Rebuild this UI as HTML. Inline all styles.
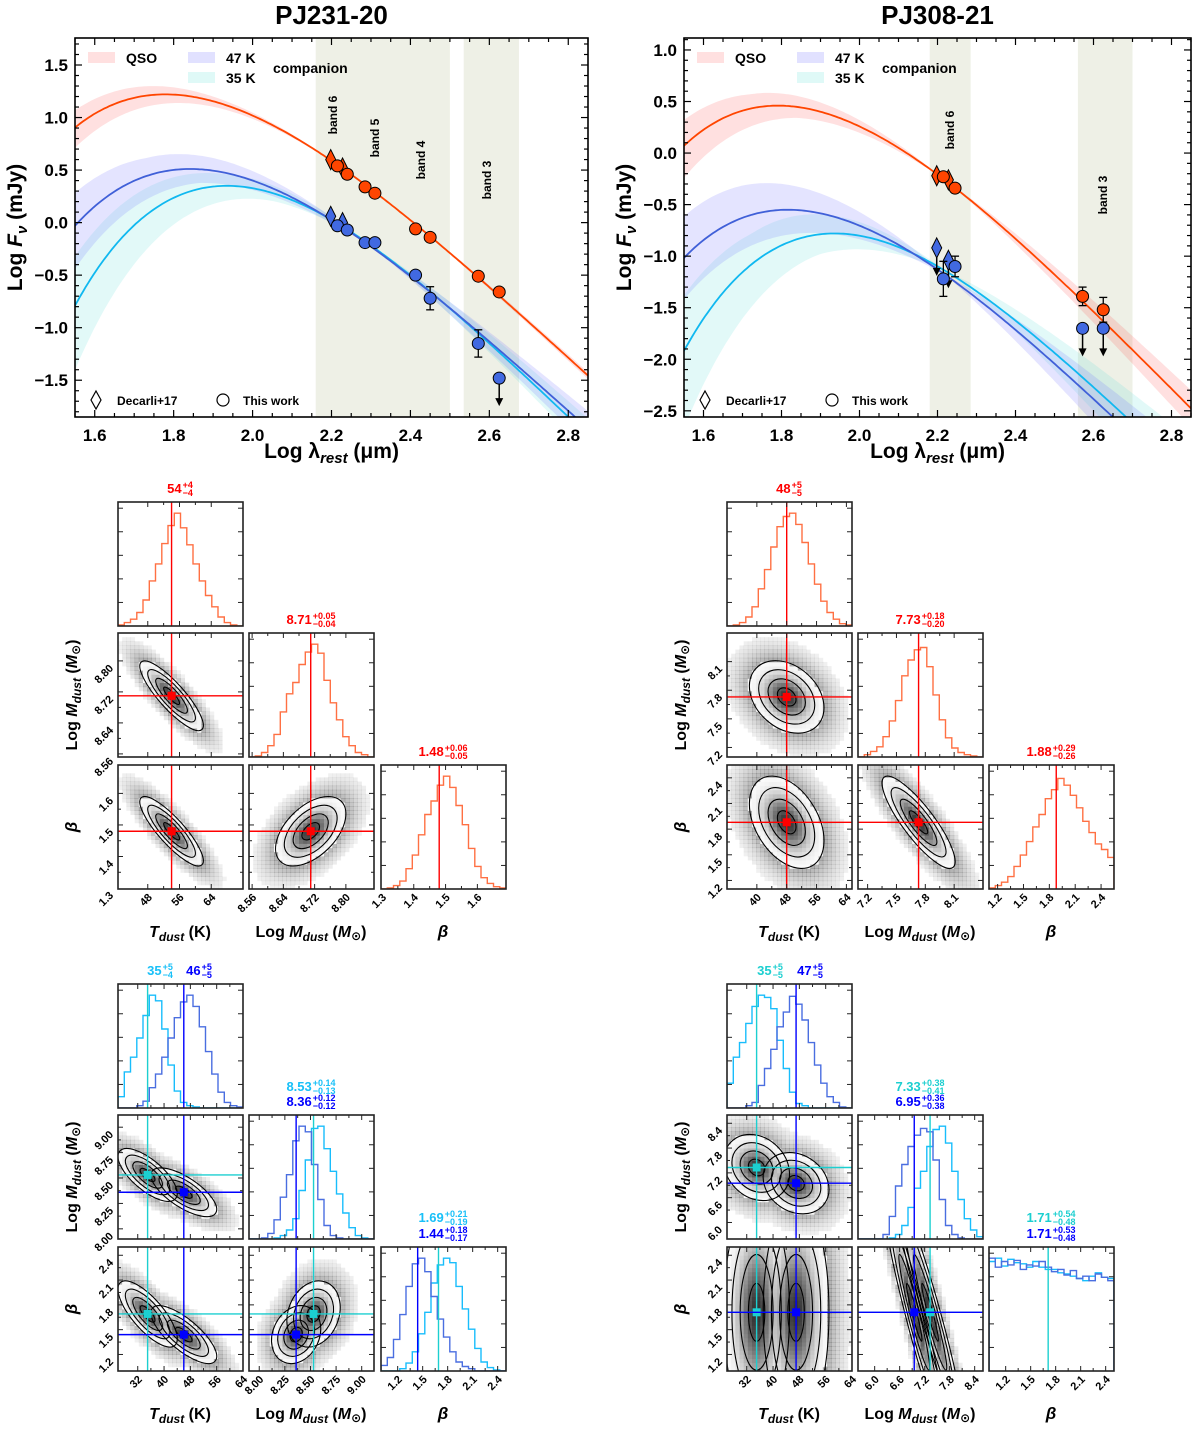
<!DOCTYPE html>
<html><head><meta charset="utf-8">
<style>
body{margin:0;background:#fff}
svg{display:block;font-family:"Liberation Sans","DejaVu Sans",sans-serif;font-weight:bold}
</style></head>
<body>
<svg id="fig" width="1200" height="1430" viewBox="0 0 1200 1430"></svg>
<script>
// ================= SED DATA =================
const sedXTicks=[1.6,1.8,2.0,2.2,2.4,2.6,2.8];
const sedXTickLabels=['1.6','1.8','2.0','2.2','2.4','2.6','2.8'];
const L_yTicks=[-1.5,-1.0,-0.5,0.0,0.5,1.0,1.5];
const L_yTickLabels=['\u22121.5','\u22121.0','\u22120.5','0.0','0.5','1.0','1.5'];
const R_yTicks=[-2.5,-2.0,-1.5,-1.0,-0.5,0.0,0.5,1.0];
const R_yTickLabels=['\u22122.5','\u22122.0','\u22121.5','\u22121.0','\u22120.5','0.0','0.5','1.0'];
const L_bandLo=[2.16,2.535]; const L_bandHi=[2.50,2.675];
const R_bandLo=[2.18,2.56];  const R_bandHi=[2.285,2.70];
// curves: QSO, 47K companion, 35K companion
const L_curveT=[54,47,35]; const L_curveBeta=[1.48,1.44,1.69];
const L_anchorX=[1.77,1.85,1.94]; const L_anchorY=[1.22,0.51,0.35];
const L_dT=[4,6,5]; const L_dBeta=[0.06,0.3,0.3];
const R_curveT=[48,47,35]; const R_curveBeta=[1.88,1.71,1.71];
const R_anchorX=[1.79,1.82,1.93]; const R_anchorY=[0.46,-0.55,-0.78];
const R_dT=[5,6,6]; const R_dBeta=[0.28,0.6,0.6];
// points
const L_qsoCircX=[2.215,2.24,2.285,2.31,2.413,2.45,2.572,2.625];
const L_qsoCircY=[0.54,0.46,0.34,0.28,-0.06,-0.14,-0.51,-0.66];
const L_qsoCircErr=[0,0,0,0,0,0,0,0]; const L_qsoCircUL=[0,0,0,0,0,0,0,0];
const L_qsoDiaX=[2.198,2.228]; const L_qsoDiaY=[0.60,0.52]; const L_qsoDiaUL=[0,0];
const L_compCircX=[2.215,2.24,2.285,2.31,2.413,2.45,2.572,2.625];
const L_compCircY=[-0.03,-0.07,-0.19,-0.19,-0.50,-0.72,-1.15,-1.48];
const L_compCircErr=[0,0,0,0,0.02,0.11,0.13,0]; const L_compCircUL=[0,0,0,0,0,0,0,1];
const L_compDiaX=[2.198,2.228]; const L_compDiaY=[0.06,0.0]; const L_compDiaUL=[0,0];
const R_qsoCircX=[2.215,2.245,2.572,2.625]; const R_qsoCircY=[-0.23,-0.34,-1.39,-1.52];
const R_qsoCircErr=[0.02,0,0.09,0.12]; const R_qsoCircUL=[0,0,0,0];
const R_qsoDiaX=[2.198,2.228]; const R_qsoDiaY=[-0.22,-0.26]; const R_qsoDiaUL=[0,0];
const R_compCircX=[2.215,2.245,2.572,2.625]; const R_compCircY=[-1.22,-1.10,-1.70,-1.70];
const R_compCircErr=[0.17,0.1,0,0]; const R_compCircUL=[0,0,1,1];
const R_compDiaX=[2.198,2.228]; const R_compDiaY=[-0.92,-1.04]; const R_compDiaUL=[1,1];

// ================= CORNER DATA =================
const TL_mean=[54,8.71,1.48]; const TL_sig=[4,0.045,0.055]; const TL_corr=[-0.85,-0.85,0.5];
const TL_histT=[0.01,0.03,0.06,0.12,0.23,0.4,0.55,0.73,0.89,1.0,0.87,0.72,0.55,0.4,0.27,0.17,0.08,0.03,0.01,0.0];
const TL_histM=[0,0.01,0.04,0.1,0.2,0.4,0.56,0.66,0.82,0.93,1.0,0.92,0.68,0.48,0.33,0.18,0.1,0.04,0.02,0.0];
const TL_histB=[0,0.01,0.03,0.07,0.18,0.3,0.48,0.66,0.78,0.92,1.0,0.9,0.74,0.57,0.36,0.2,0.1,0.05,0.02,0.01];
const TR_mean=[48,7.73,1.88]; const TR_sig=[5,0.19,0.27]; const TR_corr=[-0.3,-0.4,-0.85];
const TR_histT=[0,0.01,0.03,0.08,0.17,0.33,0.5,0.7,0.88,0.97,1.0,0.9,0.74,0.55,0.37,0.22,0.12,0.06,0.02,0.01];
const TR_histM=[0,0.02,0.05,0.09,0.18,0.32,0.5,0.72,0.86,0.95,0.97,0.8,0.55,0.33,0.17,0.08,0.04,0.02,0.01,0];
const TR_histB=[0.01,0.03,0.06,0.11,0.2,0.3,0.42,0.55,0.66,0.8,0.88,0.98,0.92,0.83,0.72,0.6,0.5,0.4,0.35,0.28];
const BLc_mean=[35,8.53,1.69]; const BLc_sig=[4.5,0.13,0.2]; const BLc_corr=[-0.7,-0.75,0.2];
const BLb_mean=[46,8.36,1.44]; const BLb_sig=[5,0.12,0.175]; const BLb_corr=[-0.7,-0.75,0.2];
const BLc_histT=[0.1,0.32,0.45,0.62,0.82,1.0,0.95,0.7,0.38,0.15,0.05,0.02,0.01,0,0,0,0,0,0,0];
const BLb_histT=[0,0,0,0.02,0.06,0.18,0.3,0.45,0.62,0.8,0.94,1.0,0.9,0.72,0.5,0.3,0.14,0.05,0.02,0.01];
const BLc_histM=[0,0,0,0,0.01,0.03,0.08,0.18,0.43,0.7,0.98,1.0,0.8,0.6,0.4,0.23,0.1,0.03,0.01,0];
const BLb_histM=[0,0,0.01,0.05,0.17,0.37,0.57,0.87,1.0,0.95,0.66,0.35,0.12,0.03,0.01,0,0,0,0,0];
const BLc_histB=[0,0,0,0.02,0.07,0.17,0.33,0.52,0.78,0.94,1.0,0.96,0.75,0.55,0.37,0.2,0.08,0.03,0.01,0];
const BLb_histB=[0.05,0.12,0.28,0.5,0.75,0.95,1.0,0.88,0.66,0.46,0.3,0.17,0.08,0.04,0.02,0,0,0,0,0];
const BRc_mean=[35,7.33,1.71]; const BRc_sig=[5,0.4,0.7]; const BRc_corr=[-0.2,0,-0.95];
const BRb_mean=[47,6.95,1.71]; const BRb_sig=[5,0.37,0.7]; const BRb_corr=[-0.2,0,-0.95];
const BRc_histT=[0.22,0.45,0.58,0.75,0.9,1.0,0.98,0.88,0.6,0.35,0.14,0.04,0.02,0,0,0,0,0,0,0];
const BRb_histT=[0,0,0,0.02,0.05,0.2,0.35,0.52,0.72,0.85,0.99,0.92,0.78,0.58,0.38,0.22,0.1,0.05,0.01,0];
const BRc_histM=[0,0,0,0,0,0.01,0.04,0.12,0.28,0.45,0.6,0.82,0.97,1.0,0.85,0.6,0.35,0.18,0.08,0.02];
const BRb_histM=[0,0,0,0,0.04,0.2,0.47,0.66,0.82,0.92,0.98,0.95,0.7,0.35,0.12,0.04,0.01,0,0,0];
const BRc_histB=[0.97,1.0,0.93,0.99,0.96,0.95,0.92,0.97,0.92,0.9,0.9,0.87,0.86,0.84,0.82,0.8,0.84,0.87,0.83,0.82];
const BRb_histB=[1.0,0.92,0.97,0.94,0.98,0.9,0.94,0.93,0.97,0.92,0.88,0.9,0.85,0.89,0.82,0.84,0.8,0.86,0.83,0.8];

// ================= HELPERS =================
const NS='http://www.w3.org/2000/svg';
const svg=document.getElementById('fig');
let clipId=0;
function el(tag,attrs,parent){const e=document.createElementNS(NS,tag);for(const k in attrs)e.setAttribute(k,attrs[k]);(parent||svg).appendChild(e);return e;}
function clipRect(x,y,w,h){const id='c'+(clipId++);const cp=el('clipPath',{id:id});el('rect',{x:x,y:y,width:w,height:h},cp);return 'url(#'+id+')';}

const C2=14388;
function mbb(l,T,b,Tc){const lam=Math.pow(10,l);const x=C2/(lam*T),xc=C2/(lam*Tc);
  return -(3+b)*l+Math.log10(1/Math.expm1(x)-1/Math.expm1(xc));}

function sedPanel(P){
  const g=el('g',{});
  
  
  const X=v=>P.x0+(v-P.xr[0])/(P.xr[1]-P.xr[0])*(P.x1-P.x0);
  const Y=v=>P.y1-(v-P.yr[0])/(P.yr[1]-P.yr[0])*(P.y1-P.y0);
  const cp=clipRect(P.x0,P.y0,P.x1-P.x0,P.y1-P.y0);
  const inner=el('g',{'clip-path':cp},g);
  for(let i=0;i<P.bandLo.length;i++){
    const r=el('rect',{x:X(P.bandLo[i]),y:P.y0,width:X(P.bandHi[i])-X(P.bandLo[i]),height:P.y1-P.y0,fill:'#eef0e6'},inner);
    
    
  }
  const N=200;
  const order=[2,1,0];
  const fills=['#ff3030','#6a6aff','#60e0d8'];
  const strokes=['#ff4500','#4060d8','#10b8f0'];
  const opac=[0.15,0.18,0.18];
  const curve=(k,l,T,b)=>mbb(l,T,b,P.Tc)-mbb(P.aX[k],P.T[k],P.B[k],P.Tc)+P.aY[k];
  for(const k of order){
    const cen=l=>curve(k,l,P.T[k],P.B[k]);
    const combos=[[P.dT[k],-P.dB[k]],[-P.dT[k],P.dB[k]],[P.dT[k],0],[-P.dT[k],0],[0,P.dB[k]],[0,-P.dB[k]]];
    const up=[],lo=[];
    for(let i=0;i<=N;i++){
      const l=P.xr[0]-0.02+(P.xr[1]-P.xr[0]+0.04)*i/N;
      let mn=1e9,mx=-1e9;
      for(const cb of combos){const T=P.T[k]+cb[0],b=P.B[k]+cb[1];
        const v=mbb(l,T,b,P.Tc)-mbb(P.pivot,T,b,P.Tc)+cen(P.pivot);
        mn=Math.min(mn,v);mx=Math.max(mx,v);}
      const c=cen(l);mn=Math.min(mn,c);mx=Math.max(mx,c);
      up.push([X(l),Y(mx)]);lo.push([X(l),Y(mn)]);
    }
    const d='M'+up.map(p=>p[0].toFixed(1)+','+p[1].toFixed(1)).join('L')+'L'+lo.reverse().map(p=>p[0].toFixed(1)+','+p[1].toFixed(1)).join('L')+'Z';
    const sh=el('path',{d:d,fill:fills[k],'fill-opacity':opac[k],stroke:'none'},inner);
    
    
  }
  for(const k of order){
    let d='';
    for(let i=0;i<=N;i++){const l=P.xr[0]-0.02+(P.xr[1]-P.xr[0]+0.04)*i/N;d+=(i?'L':'M')+X(l).toFixed(1)+','+Y(curve(k,l,P.T[k],P.B[k])).toFixed(1);}
    const ln=el('path',{d:d,fill:'none',stroke:strokes[k],'stroke-width':1.8},inner);
    
    
  }
  function pts(xs,ys,errs,uls,shape,fill,name){
    for(let i=0;i<xs.length;i++){
      const px=X(xs[i]),py=Y(ys[i]);
      if(errs&&errs[i]>0){
        el('line',{x1:px,x2:px,y1:Y(ys[i]+errs[i]),y2:Y(ys[i]-errs[i]),stroke:'#000','stroke-width':1.3},inner);
        el('line',{x1:px-4,x2:px+4,y1:Y(ys[i]+errs[i]),y2:Y(ys[i]+errs[i]),stroke:'#000','stroke-width':1.3},inner);
        el('line',{x1:px-4,x2:px+4,y1:Y(ys[i]-errs[i]),y2:Y(ys[i]-errs[i]),stroke:'#000','stroke-width':1.3},inner);
      }
      if(uls[i]){
        el('line',{x1:px,x2:px,y1:py,y2:py+26,stroke:'#000','stroke-width':1.5},inner);
        el('path',{d:`M${px-4},${py+20}L${px+4},${py+20}L${px},${py+28}Z`,fill:'#000'},inner);
      }
      let m;
      if(shape==='c') m=el('circle',{cx:px,cy:py,r:6,fill:fill,stroke:'#000','stroke-width':1},inner);
      else m=el('path',{d:`M${px},${py-10}L${px+5},${py}L${px},${py+10}L${px-5},${py}Z`,fill:fill,stroke:'#000','stroke-width':1},inner);
      
      
    }
  }
  pts(P.qDX,P.qDY,null,P.qDU,'d','#ff4500','qso-decarli-point');
  pts(P.qCX,P.qCY,P.qCE,P.qCU,'c','#ff4500','qso-thiswork-point');
  pts(P.cDX,P.cDY,null,P.cDU,'d','#4169e1','companion-decarli-point');
  pts(P.cCX,P.cCY,P.cCE,P.cCU,'c','#4169e1','companion-thiswork-point');
  el('rect',{x:P.x0,y:P.y0,width:P.x1-P.x0,height:P.y1-P.y0,fill:'none',stroke:'#000','stroke-width':1.6},g);
  const tk=(x1,y1,x2,y2)=>el('line',{x1,y1,x2,y2,stroke:'#000','stroke-width':1.2},g);
  for(let v=1.55;v<=2.851;v+=0.05){const px=X(v);const major=Math.abs(v*5-Math.round(v*5))<0.01;const L=major?7:4;tk(px,P.y1,px,P.y1-L);tk(px,P.y0,px,P.y0+L);}
  for(let i=0;i<P.xt.length;i++){const t=el('text',{x:X(P.xt[i]),y:P.y1+24,'text-anchor':'middle','font-size':17},g);t.textContent=P.xtl[i];}
  for(let v=Math.ceil(P.yr[0]*10)/10;v<=P.yr[1];v+=0.1){const py=Y(v);const major=Math.abs(v*2-Math.round(v*2))<0.01;const L=major?7:4;tk(P.x0,py,P.x0+L,py);tk(P.x1,py,P.x1-L,py);}
  for(let i=0;i<P.yt.length;i++){const t=el('text',{x:P.x0-7,y:Y(P.yt[i])+6,'text-anchor':'end','font-size':17},g);t.textContent=P.ytl[i];}
  const tt=el('text',{x:(P.x0+P.x1)/2,y:24,'text-anchor':'middle','font-size':26},g);tt.textContent=P.title;
  
  const xl=el('text',{x:(P.x0+P.x1)/2,y:458,'text-anchor':'middle','font-size':21},g);
  xl.innerHTML='Log \u03bb<tspan font-size="15" dy="5" font-style="italic">rest</tspan><tspan dy="-5"> (\u03bcm)</tspan>';
  
  const yl=el('text',{x:0,y:0,'text-anchor':'middle','font-size':21,transform:`translate(${P.x0-53},${(P.y0+P.y1)/2}) rotate(-90)`},g);
  yl.innerHTML='Log <tspan font-style="italic">F</tspan><tspan font-size="15" dy="5" font-style="italic">\u03bd</tspan><tspan dy="-5"> (mJy)</tspan>';
  
  for(let i=0;i<P.bl.length;i++){const b=P.bl[i];const t=el('text',{x:0,y:0,'text-anchor':'middle','font-size':12,transform:`translate(${b[1]+4},${b[2]}) rotate(-90)`},g);t.textContent=b[0];}
  const lx=P.x0;const lg=el('g',{},g);
  el('rect',{x:lx+13,y:52,width:27,height:11,fill:'#ff3030','fill-opacity':0.15},lg);
  el('rect',{x:lx+113,y:52,width:27,height:11,fill:'#6a6aff','fill-opacity':0.2},lg);
  el('rect',{x:lx+113,y:72,width:27,height:11,fill:'#60e0d8','fill-opacity':0.2},lg);
  const lt=(x,y,s,fs)=>{const t=el('text',{x,y,'font-size':fs},lg);t.textContent=s;return t;};
  lt(lx+51,63,'QSO',14);lt(lx+151,63,'47 K',14);lt(lx+151,83,'35 K',14);lt(lx+198,73,'companion',14);
  el('path',{d:`M${lx+21},${391}L${lx+26},${400}L${lx+21},${409}L${lx+16},${400}Z`,fill:'#fff',stroke:'#000','stroke-width':1.2},lg);
  lt(lx+42,405,'Decarli+17',12);
  el('circle',{cx:lx+148,cy:400,r:6,fill:'#fff',stroke:'#000','stroke-width':1.2},lg);
  lt(lx+168,405,'This work',12);
}

sedPanel({name:'sed-panel-pj231',title:'PJ231-20',x0:75,x1:588,y0:38,y1:417,xr:[1.55,2.85],yr:[-1.85,1.757],
  xt:sedXTicks,xtl:sedXTickLabels,yt:L_yTicks,ytl:L_yTickLabels,bandLo:L_bandLo,bandHi:L_bandHi,
  T:L_curveT,B:L_curveBeta,aX:L_anchorX,aY:L_anchorY,dT:L_dT,dB:L_dBeta,Tc:20.7,pivot:2.3,
  qCX:L_qsoCircX,qCY:L_qsoCircY,qCE:L_qsoCircErr,qCU:L_qsoCircUL,qDX:L_qsoDiaX,qDY:L_qsoDiaY,qDU:L_qsoDiaUL,
  cCX:L_compCircX,cCY:L_compCircY,cCE:L_compCircErr,cCU:L_compCircUL,cDX:L_compDiaX,cDY:L_compDiaY,cDU:L_compDiaUL,
  bl:[['band 6',333,115],['band 5',375,138],['band 4',421,160],['band 3',487,180]]});
sedPanel({name:'sed-panel-pj308',title:'PJ308-21',x0:684,x1:1191,y0:38,y1:417,xr:[1.55,2.85],yr:[-2.56,1.116],
  xt:sedXTicks,xtl:sedXTickLabels,yt:R_yTicks,ytl:R_yTickLabels,bandLo:R_bandLo,bandHi:R_bandHi,
  T:R_curveT,B:R_curveBeta,aX:R_anchorX,aY:R_anchorY,dT:R_dT,dB:R_dBeta,Tc:19.7,pivot:2.22,
  qCX:R_qsoCircX,qCY:R_qsoCircY,qCE:R_qsoCircErr,qCU:R_qsoCircUL,qDX:R_qsoDiaX,qDY:R_qsoDiaY,qDU:R_qsoDiaUL,
  cCX:R_compCircX,cCY:R_compCircY,cCE:R_compCircErr,cCU:R_compCircUL,cDX:R_compDiaX,cDY:R_compDiaY,cDU:R_compDiaUL,
  bl:[['band 6',950,130],['band 3',1103,195]]});

// ================= CORNER =================
function title(g,cx,y,main,up,lo,color){
  const t=el('text',{x:0,y:y,'font-size':13,fill:color},g);t.textContent=main;
  const w=t.getComputedTextLength();
  const u=el('text',{x:0,y:y-5,'font-size':9,fill:color},g);u.textContent=up;
  const l=el('text',{x:0,y:y+3,'font-size':9,fill:color},g);l.textContent=lo;
  const w2=Math.max(u.getComputedTextLength(),l.getComputedTextLength());
  const x0=cx-(w+1+w2)/2;
  t.setAttribute('x',x0);u.setAttribute('x',x0+w+1);l.setAttribute('x',x0+w+1);
  
}
function drawCorner(C){
  const g=el('g',{});
  
  
  const W=125,H=124;
  const sx=(d,v,c)=>C.cx[c]+(v-C.ranges[d][0])/(C.ranges[d][1]-C.ranges[d][0])*W;
  const sy=(d,v,r)=>C.ry[r]+H-(v-C.ranges[d][0])/(C.ranges[d][1]-C.ranges[d][0])*H;
  const ci=(a,b)=>(a===0&&b===1)||(a===1&&b===0)?0:((a===0&&b===2)||(a===2&&b===0)?1:2);
  for(let r=0;r<3;r++)for(let c=0;c<=r;c++){
    const x0=C.cx[c],y0=C.ry[r];
    const pg=el('g',{},g);
    
    
    const inner=el('g',{'clip-path':clipRect(x0,y0,W,H)},pg);
    if(r===c){
      for(const comp of C.comps){
        const h=comp.hists[c];const n=h.length;
        let d=`M${x0},${y0+H}`;
        for(let i=0;i<n;i++){const xa=x0+W*i/n,xb=x0+W*(i+1)/n,yy=y0+H-h[i]*H*0.91;d+=`L${xa.toFixed(1)},${yy.toFixed(1)}L${xb.toFixed(1)},${yy.toFixed(1)}`;}
        d+=`L${x0+W},${y0+H}`;
        const p=el('path',{d:d,fill:'none',stroke:comp.hcol,'stroke-width':1.4},inner);
        
        
      }
      for(const comp of C.comps){if(comp.hideDiagLine&&c===2)continue;const px=sx(c,comp.mean[c],c);el('line',{x1:px,x2:px,y1:y0,y2:y0+H,stroke:comp.lcol,'stroke-width':1.4},inner);}
    } else {
      const N=30;
      for(let i=0;i<N;i++)for(let j=0;j<N;j++){
        const vx=C.ranges[c][0]+(C.ranges[c][1]-C.ranges[c][0])*(i+0.5)/N;
        const vy=C.ranges[r][0]+(C.ranges[r][1]-C.ranges[r][0])*(j+0.5)/N;
        let d=0;
        for(const comp of C.comps){
          const u=(vx-comp.mean[c])/comp.sig[c],v=(vy-comp.mean[r])/comp.sig[r],rho=comp.corr[ci(c,r)];
          const q=(u*u-2*rho*u*v+v*v)/(1-rho*rho);d=Math.max(d,Math.exp(-0.5*q));
        }
        const cw=W/N,ch=H/N;const rx=x0+i*cw,ry=y0+H-(j+1)*ch;
        if(d>0.135){const gr=Math.round(250-200*Math.pow((d-0.135)/0.865,1.5));el('rect',{x:rx,y:ry,width:cw+0.4,height:ch+0.4,fill:`rgb(${gr},${gr},${gr})`},inner);}
        else if(d>0.004){el('rect',{x:rx,y:ry,width:cw+0.4,height:ch+0.4,fill:'#000','fill-opacity':(0.32*Math.sqrt(d/0.135)).toFixed(3)},inner);}
      }
      for(const comp of C.comps){
        const sX=comp.sig[c]*W/(C.ranges[c][1]-C.ranges[c][0]);
        const sY=comp.sig[r]*H/(C.ranges[r][1]-C.ranges[r][0]);
        const rho=comp.corr[ci(c,r)];
        const a=sX*sX,b=sY*sY,cc=-rho*sX*sY;
        const m=(a+b)/2,dd=Math.sqrt(((a-b)/2)**2+cc*cc);
        const l1=m+dd,l2=Math.max(m-dd,0.01);
        const th=0.5*Math.atan2(2*cc,a-b)*180/Math.PI;
        const px=sx(c,comp.mean[c],c),py=sy(r,comp.mean[r],r);
        for(const s of [0.5,1,1.5,2]){
          const e=el('ellipse',{cx:px,cy:py,rx:s*Math.sqrt(l1),ry:s*Math.sqrt(l2),fill:'none',stroke:'#000','stroke-width':1.1,transform:`rotate(${th} ${px} ${py})`},inner);
          
          
        }
      }
      for(const comp of C.comps){
        const px=sx(c,comp.mean[c],c),py=sy(r,comp.mean[r],r);
        el('line',{x1:px,x2:px,y1:y0,y2:y0+H,stroke:comp.lcol,'stroke-width':1.4},inner);
        el('line',{x1:x0,x2:x0+W,y1:py,y2:py,stroke:comp.lcol,'stroke-width':1.4},inner);
        const mk=el('rect',{x:px-4,y:py-4,width:8,height:8,fill:comp.lcol},inner);
        
        
      }
    }
    el('rect',{x:x0,y:y0,width:W,height:H,fill:'none',stroke:'#222','stroke-width':1.6},pg);
    const tk=(a,b,c2,d2)=>el('line',{x1:a,y1:b,x2:c2,y2:d2,stroke:'#222','stroke-width':1},pg);
    const xt=C.ticks[c];
    for(const v of xt){const px=sx(c,v,c);if(px<x0+1||px>x0+W-1)continue;tk(px,y0+H,px,y0+H-5);tk(px,y0,px,y0+5);}
    for(let k=0;k<xt.length-1;k++){const mv=(xt[k]+xt[k+1])/2;const px=sx(c,mv,c);tk(px,y0+H,px,y0+H-3);tk(px,y0,px,y0+3);}
    if(r===c){for(let k=1;k<=5;k++){const py=y0+H-k*H*0.19;tk(x0,py,x0+5,py);tk(x0+W,py,x0+W-5,py);}}
    else{const yt=C.ticks[r];for(const v of yt){const py=sy(r,v,r);if(py<y0+1||py>y0+H-1)continue;tk(x0,py,x0+5,py);tk(x0+W,py,x0+W-5,py);}
      for(let k=0;k<yt.length-1;k++){const py=sy(r,(yt[k]+yt[k+1])/2,r);tk(x0,py,x0+3,py);tk(x0+W,py,x0+W-3,py);}}
    if(r===2){for(let k=0;k<xt.length;k++){const px=sx(c,xt[k],c);const t=el('text',{x:0,y:0,'font-size':11,'text-anchor':'end',transform:`translate(${px+5},${y0+H+9}) rotate(-45)`},pg);t.textContent=C.tickLabels[c][k];}}
    if(c===0&&r>0){const yt=C.ticks[r];for(let k=0;k<yt.length;k++){const py=sy(r,yt[k],r);const t=el('text',{x:0,y:0,'font-size':11,'text-anchor':'end',transform:`translate(${x0-4},${py+8}) rotate(-45)`},pg);t.textContent=C.tickLabels[r][k];}}
  }
  C.titles(g);
  const ly=C.ry[2]+H+48;
  const t1=el('text',{x:C.cx[0]+62,y:ly,'text-anchor':'middle','font-size':16},g);t1.innerHTML='<tspan font-style="italic">T</tspan><tspan font-size="12" dy="4" font-style="italic">dust</tspan><tspan dy="-4"> (K)</tspan>';
  
  const t2=el('text',{x:C.cx[1]+62,y:ly,'text-anchor':'middle','font-size':16},g);t2.innerHTML='Log <tspan font-style="italic">M</tspan><tspan font-size="12" dy="4" font-style="italic">dust</tspan><tspan dy="-4"> (<tspan font-style="italic">M</tspan></tspan><tspan font-size="12" dy="3">\u2299</tspan><tspan dy="-3">)</tspan>';
  
  const t3=el('text',{x:C.cx[2]+62,y:ly,'text-anchor':'middle','font-size':17,'font-style':'italic'},g);t3.textContent='\u03b2';
  
  const t4=el('text',{x:0,y:0,'text-anchor':'middle','font-size':16,transform:`translate(${C.cx[0]-41},${C.ry[1]+62}) rotate(-90)`},g);t4.innerHTML='Log <tspan font-style="italic">M</tspan><tspan font-size="12" dy="4" font-style="italic">dust</tspan><tspan dy="-4"> (<tspan font-style="italic">M</tspan></tspan><tspan font-size="12" dy="3">\u2299</tspan><tspan dy="-3">)</tspan>';
  
  const t5=el('text',{x:0,y:0,'text-anchor':'middle','font-size':17,'font-style':'italic',transform:`translate(${C.cx[0]-41},${C.ry[2]+62}) rotate(-90)`},g);t5.textContent='\u03b2';
  
}
const RED='#ff0000',QH='#ff7043',CY='#1ccfd0',CYH='#18bdfc',BL='#0000ff',BLH='#4a6ee0';
drawCorner({name:'corner-qso-pj231',cx:[118,249,381],ry:[502,633,765],ranges:[[40.5,72],[8.552,8.872],[1.297,1.69]],
  ticks:[[48,56,64],[8.56,8.64,8.72,8.80],[1.3,1.4,1.5,1.6]],tickLabels:[['48','56','64'],['8.56','8.64','8.72','8.80'],['1.3','1.4','1.5','1.6']],
  comps:[{mean:TL_mean,sig:TL_sig,corr:TL_corr,lcol:RED,hcol:QH,hists:[TL_histT,TL_histM,TL_histB]}],
  titles:g=>{title(g,180,493,'54','+4','\u22124',RED);title(g,311,624,'8.71','+0.05','\u22120.04',RED);title(g,443,756,'1.48','+0.06','\u22120.05',RED);}});
drawCorner({name:'corner-qso-pj308',cx:[727,858,989],ry:[502,633,765],ranges:[[32,65.5],[7.1,8.4],[1.1,2.55]],
  ticks:[[40,48,56,64],[7.2,7.5,7.8,8.1],[1.2,1.5,1.8,2.1,2.4]],tickLabels:[['40','48','56','64'],['7.2','7.5','7.8','8.1'],['1.2','1.5','1.8','2.1','2.4']],
  comps:[{mean:TR_mean,sig:TR_sig,corr:TR_corr,lcol:RED,hcol:QH,hists:[TR_histT,TR_histM,TR_histB]}],
  titles:g=>{title(g,789,493,'48','+5','\u22125',RED);title(g,920,624,'7.73','+0.18','\u22120.20',RED);title(g,1051,756,'1.88','+0.29','\u22120.26',RED);}});
drawCorner({name:'corner-companion-pj231',cx:[118,249,381],ry:[984,1115,1247],ranges:[[26,64],[7.9,9.12],[1.0,2.5]],
  ticks:[[32,40,48,56,64],[8.0,8.25,8.5,8.75,9.0],[1.2,1.5,1.8,2.1,2.4]],tickLabels:[['32','40','48','56','64'],['8.00','8.25','8.50','8.75','9.00'],['1.2','1.5','1.8','2.1','2.4']],
  comps:[{mean:BLc_mean,sig:BLc_sig,corr:BLc_corr,lcol:CY,hcol:CYH,hists:[BLc_histT,BLc_histM,BLc_histB]},
         {mean:BLb_mean,sig:BLb_sig,corr:BLb_corr,lcol:BL,hcol:BLH,hists:[BLb_histT,BLb_histM,BLb_histB]}],
  titles:g=>{title(g,160,975,'35','+5','\u22124','#18c0f8');title(g,199,975,'46','+5','\u22125',BL);
    title(g,311,1091,'8.53','+0.14','\u22120.13','#18c0f8');title(g,311,1106,'8.36','+0.12','\u22120.12',BL);
    title(g,443,1222,'1.69','+0.21','\u22120.19','#18c0f8');title(g,443,1238,'1.44','+0.18','\u22120.17',BL);}});
drawCorner({name:'corner-companion-pj308',cx:[727,858,989],ry:[984,1115,1247],ranges:[[26,64],[5.6,8.6],[1.0,2.5]],
  ticks:[[32,40,48,56,64],[6.0,6.6,7.2,7.8,8.4],[1.2,1.5,1.8,2.1,2.4]],tickLabels:[['32','40','48','56','64'],['6.0','6.6','7.2','7.8','8.4'],['1.2','1.5','1.8','2.1','2.4']],
  comps:[{mean:BRc_mean,sig:BRc_sig,corr:BRc_corr,lcol:CY,hcol:CYH,hists:[BRc_histT,BRc_histM,BRc_histB]},
         {mean:BRb_mean,sig:BRb_sig,corr:BRb_corr,lcol:BL,hcol:BLH,hists:[BRb_histT,BRb_histM,BRb_histB],hideDiagLine:true}],
  titles:g=>{title(g,770,975,'35','+5','\u22125',CY);title(g,810,975,'47','+5','\u22125',BL);
    title(g,920,1091,'7.33','+0.38','\u22120.41',CY);title(g,920,1106,'6.95','+0.36','\u22120.38',BL);
    title(g,1051,1222,'1.71','+0.54','\u22120.48',CY);title(g,1051,1238,'1.71','+0.53','\u22120.48',BL);}});
</script>
</body></html>
